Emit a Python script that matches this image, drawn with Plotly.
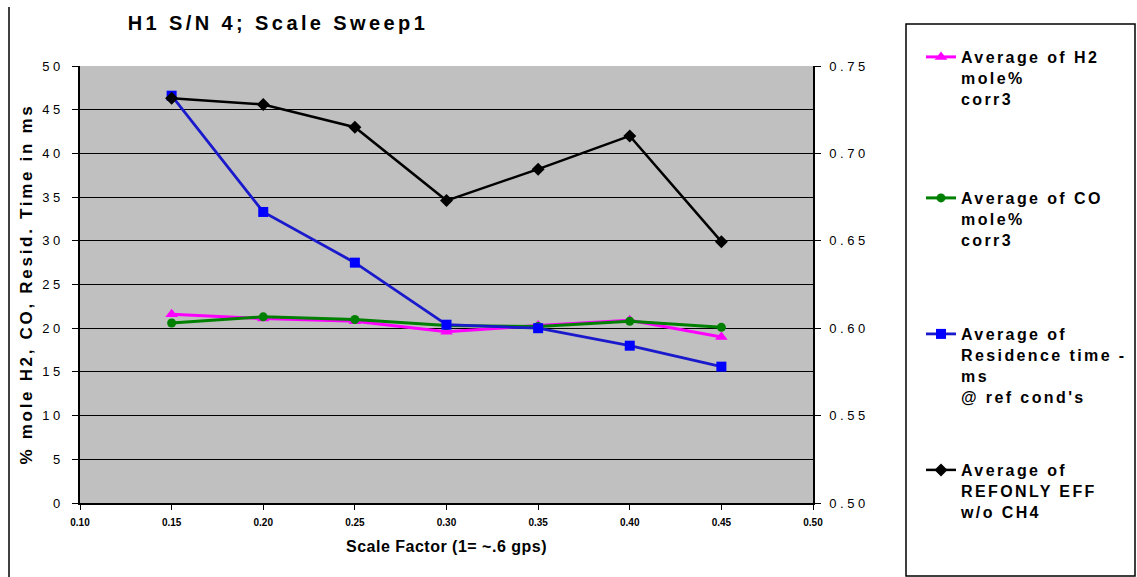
import plotly.graph_objects as go

# Scale sweep results
scale_factor = [0.15, 0.20, 0.25, 0.30, 0.35, 0.40, 0.45]
h2_mole_pct = [21.6, 21.1, 20.8, 19.6, 20.3, 20.9, 19.0]
co_mole_pct = [20.6, 21.3, 21.0, 20.3, 20.2, 20.8, 20.1]
residence_ms = [46.6, 33.3, 27.5, 20.4, 20.0, 18.0, 15.6]
refonly_eff = [0.7315, 0.728, 0.715, 0.673, 0.691, 0.710, 0.6495]

series_names = [
    "Average of H2<br>mole%<br>corr3",
    "Average of CO<br>mole%<br>corr3",
    "Average of<br>Residence time -<br>ms<br>@ ref cond's",
    "Average of<br>REFONLY EFF<br>w/o CH4",
]

x_tickvals = [0.10, 0.15, 0.20, 0.25, 0.30, 0.35, 0.40, 0.45, 0.50]
x_ticklabels = ["0.10", "0.15", "0.20", "0.25", "0.30", "0.35", "0.40", "0.45", "0.50"]
y_tickvals = [0, 5, 10, 15, 20, 25, 30, 35, 40, 45, 50]
y_ticklabels = ["0", "5", "10", "15", "20", "25", "30", "35", "40", "45", "50"]
y2_tickvals = [0.50, 0.55, 0.60, 0.65, 0.70, 0.75]
y2_ticklabels = ["0.50", "0.55", "0.60", "0.65", "0.70", "0.75"]

title_text = "H1 S/N 4; Scale Sweep1"
x_title = "Scale Factor (1= ~.6 gps)"
y_title = "% mole H2, CO, Resid. Time in ms"

W, H = 1137, 577
L, R, T, B = 80, 813, 66, 503   # plot area edges in pixels


def spaced(text, px):
    return f"<span style='letter-spacing:{px}px'>{text}</span>"


def px_x(p):
    return (p - L) / (R - L)


def px_y(p):
    return (B - p) / (B - T)


FONT = "Liberation Sans, Arial, sans-serif"

fig = go.Figure()

fig.add_trace(go.Scatter(
    x=scale_factor, y=h2_mole_pct, name=spaced(series_names[0], 2.4),
    mode="lines+markers", line=dict(color="#ff00ff", width=3),
    marker=dict(symbol="triangle-up", size=11, color="#ff00ff"),
    legend="legend",
))
fig.add_trace(go.Scatter(
    x=scale_factor, y=co_mole_pct, name=spaced(series_names[1], 2.4),
    mode="lines+markers", line=dict(color="#008000", width=3),
    marker=dict(symbol="circle", size=9, color="#008000"),
    legend="legend2",
))
fig.add_trace(go.Scatter(
    x=scale_factor, y=residence_ms, name=spaced(series_names[2], 2.4),
    mode="lines+markers", line=dict(color="#1a1acc", width=2.8),
    marker=dict(symbol="square", size=10, color="#0000ff"),
    legend="legend3",
))
fig.add_trace(go.Scatter(
    x=scale_factor, y=refonly_eff, name=spaced(series_names[3], 2.4),
    mode="lines+markers", line=dict(color="#000000", width=2.5),
    marker=dict(symbol="diamond", size=10, color="#000000"),
    yaxis="y2", legend="legend4",
))

legend_common = dict(
    xanchor="left", yanchor="top", valign="top",
    bgcolor="rgba(0,0,0,0)", borderwidth=0,
    font=dict(family=FONT, size=16, color="#000000", weight="bold"),
)
legend_x = px_x(921)
legend_tops = [40, 181, 317, 453]

fig.update_layout(
    width=W, height=H,
    margin=dict(l=L, r=W - R, t=T, b=H - B, autoexpand=False),
    paper_bgcolor="#ffffff",
    plot_bgcolor="#c0c0c0",
    showlegend=True,
    title=dict(
        text=spaced(title_text, 3.4), x=278 / W, y=1 - 23 / H,
        xref="container", yref="container", xanchor="center", yanchor="middle",
        font=dict(family=FONT, size=20, color="#000000", weight="bold"),
    ),
    xaxis=dict(
        range=[0.10, 0.50], tickvals=x_tickvals, ticktext=x_ticklabels,
        showline=True, linecolor="#000000", linewidth=1.5,
        ticks="outside", ticklen=5, tickcolor="#000000",
        ticklabelstandoff=4,
        showgrid=False, zeroline=False,
        tickfont=dict(family=FONT, size=10, color="#000000", weight="bold"),
    ),
    yaxis=dict(
        range=[0, 50], tickvals=y_tickvals,
        ticktext=[spaced(t, 3.5) for t in y_ticklabels],
        showline=True, linecolor="#000000", linewidth=1.5,
        ticks="outside", ticklen=6, tickcolor="#000000",
        ticklabelstandoff=6,
        showgrid=True, gridcolor="#000000", gridwidth=1, zeroline=False,
        tickfont=dict(family=FONT, size=13, color="#000000"),
    ),
    yaxis2=dict(
        range=[0.50, 0.75], tickvals=y2_tickvals,
        ticktext=[spaced(t, 3.5) for t in y2_ticklabels],
        overlaying="y", side="right",
        showline=True, linecolor="#000000", linewidth=1.5,
        ticks="outside", ticklen=6, tickcolor="#000000",
        ticklabelstandoff=6,
        showgrid=False, zeroline=False,
        tickfont=dict(family=FONT, size=13, color="#000000"),
    ),
    legend=dict(legend_common, x=legend_x, y=px_y(legend_tops[0])),
    legend2=dict(legend_common, x=legend_x, y=px_y(legend_tops[1])),
    legend3=dict(legend_common, x=legend_x, y=px_y(legend_tops[2])),
    legend4=dict(legend_common, x=legend_x, y=px_y(legend_tops[3])),
)

# axis titles
fig.add_annotation(
    text=spaced(y_title, 2.7), xref="paper", yref="paper",
    x=px_x(26), y=0.5, textangle=-90, showarrow=False,
    xanchor="center", yanchor="middle",
    font=dict(family=FONT, size=17, color="#000000", weight="bold"),
)
fig.add_annotation(
    text=spaced(x_title, 0.5), xref="paper", yref="paper",
    x=0.5, y=px_y(546), showarrow=False,
    xanchor="center", yanchor="middle",
    font=dict(family=FONT, size=16, color="#000000", weight="bold"),
)

# chart frame pieces: left edge of chart area and legend box
fig.add_shape(type="line", xref="paper", yref="paper",
              x0=px_x(9), x1=px_x(9), y0=px_y(577), y1=px_y(7),
              line=dict(color="#404040", width=2))
fig.add_shape(type="rect", xref="paper", yref="paper",
              x0=px_x(906), x1=px_x(1135), y0=px_y(576), y1=px_y(24),
              line=dict(color="#000000", width=1.5), fillcolor="rgba(0,0,0,0)")

fig.write_html("out.html")
